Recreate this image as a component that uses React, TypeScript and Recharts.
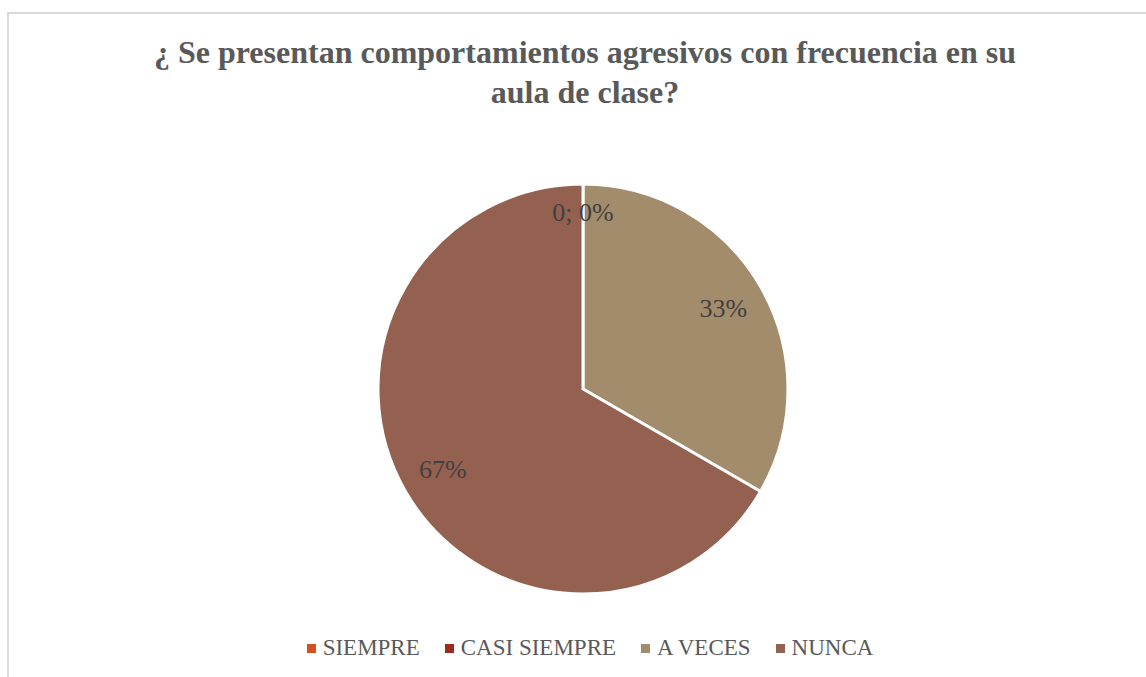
import * as React from "react";
import { Legend, Pie, PieChart, Cell } from "recharts";

const categories = ["SIEMPRE", "CASI SIEMPRE", "A VECES", "NUNCA"];
const values = [0, 0, 1, 2];
const colors = ["#d4501e", "#9e2b1f", "#a38c6b", "#946050"];
const titleLines = ["¿ Se presentan comportamientos agresivos con frecuencia en su", "aula de clase?"];

const data = categories.map((name, i) => ({ name, value: values[i] }));

const RAD = Math.PI / 180;
const SERIF = "'Liberation Serif', 'Times New Roman', serif";

function SliceLabel(props: any) {
  const { cx, cy, midAngle, outerRadius, percent, value, index } = props;
  // the two zero slices sit on top of each other; Excel shows one label
  if (value === 0 && index > 0) return null;
  const r = value === 0 ? outerRadius * 0.86 : outerRadius * 0.79;
  const x = cx + r * Math.cos(-midAngle * RAD);
  const y = cy + r * Math.sin(-midAngle * RAD);
  const pct = `${Math.round(percent * 100)}%`;
  return (
    <text x={x} y={y} textAnchor="middle" dominantBaseline="central" fill="#404040" fontSize={26} fontFamily={SERIF}>
      {value === 0 ? `${value}; ${pct}` : pct}
    </text>
  );
}

function LegendBox() {
  return (
    <div style={{ display: "flex", justifyContent: "center", gap: 25, fontFamily: SERIF, fontSize: 23, color: "#595959", paddingLeft: 34 }}>
      {data.map((d, i) => (
        <div key={d.name} style={{ display: "flex", alignItems: "center" }}>
          <span style={{ display: "inline-block", width: 9, height: 9, background: colors[i], marginRight: 7 }} />
          <span>{d.name}</span>
        </div>
      ))}
    </div>
  );
}

export default function App() {
  return (
    <div style={{ position: "absolute", left: 0, top: 0, width: 1146, height: 677, background: "#fff", overflow: "hidden" }}>
      <div
        style={{
          position: "absolute",
          left: 7,
          top: 12,
          width: 1146,
          height: 700,
          borderLeft: "2px solid #d9d9d9",
          borderTop: "2px solid #d9d9d9",
        }}
      />
      <div
        style={{
          position: "absolute",
          left: 0,
          top: 32,
          width: 1170,
          textAlign: "center",
          fontFamily: SERIF,
          fontWeight: "bold",
          fontSize: 32,
          lineHeight: "40px",
          color: "#595959",
        }}
      >
        {titleLines.map((t) => (
          <div key={t}>{t}</div>
        ))}
      </div>
      <div style={{ position: "absolute", left: 0, top: 0 }}>
        <PieChart width={1146} height={677} margin={{ top: 0, right: 0, bottom: 0, left: 0 }}>
          <Pie
            data={data}
            dataKey="value"
            nameKey="name"
            cx={583}
            cy={389}
            outerRadius={205}
            startAngle={90}
            endAngle={-270}
            stroke="#ffffff"
            strokeWidth={3}
            label={SliceLabel}
            labelLine={false}
            isAnimationActive={false}
          >
            {data.map((d, i) => (
              <Cell key={d.name} fill={colors[i]} />
            ))}
          </Pie>
          <Legend content={<LegendBox />} verticalAlign="bottom" wrapperStyle={{ bottom: 16 }} />
        </PieChart>
      </div>
    </div>
  );
}
